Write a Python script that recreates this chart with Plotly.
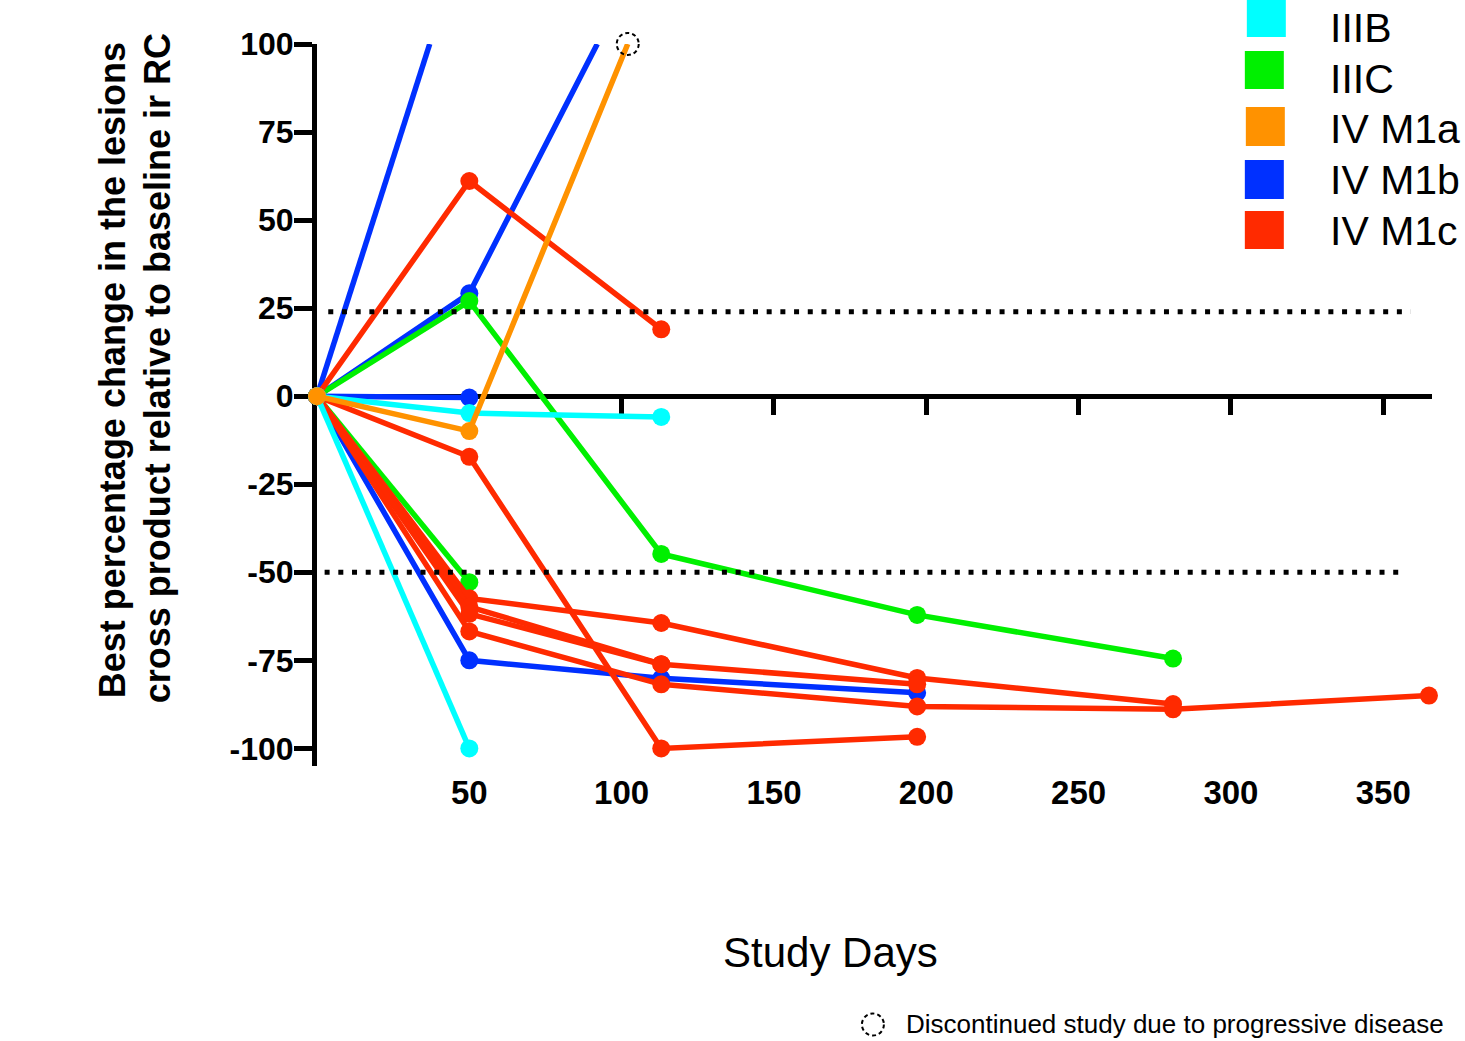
import plotly.graph_objects as go

# ---------------- data ----------------
stage_labels = ["IIIB", "IIIC", "IV M1a", "IV M1b", "IV M1c"]
stage_colors = ["#00FFFF", "#00F000", "#FF9200", "#0030FF", "#FF2A00"]

# each patient: study days, best % change, stage, and whether the last point is off-scale (no marker)
p01_days = [0, 50, 113];            p01_vals = [0, -4.8, -5.9]               # IIIB
p02_days = [0, 50];                 p02_vals = [0, -100]                     # IIIB
p03_days = [0, 50, 113, 197, 281];  p03_vals = [0, 27, -44.8, -62.1, -74.5]  # IIIC
p04_days = [0, 50];                 p04_vals = [0, -52.8]                    # IIIC
p05_days = [0, 50, 102];            p05_vals = [0, -9.9, 100]                # IV M1a (discontinued)
p06_days = [0, 37];                 p06_vals = [0, 100]                      # IV M1b
p07_days = [0, 50, 92];             p07_vals = [0, 29.2, 100]                # IV M1b
p08_days = [0, 50];                 p08_vals = [0, -0.4]                     # IV M1b
p09_days = [0, 50, 113, 197];       p09_vals = [0, -75, -80.1, -84.2]        # IV M1b
p10_days = [0, 50, 113];            p10_vals = [0, 61.1, 19.0]               # IV M1c
p11_days = [0, 50, 113, 197];       p11_vals = [0, -17.2, -100, -96.7]       # IV M1c
p12_days = [0, 50, 113, 197, 281];  p12_vals = [0, -57.4, -64.4, -80.0, -87.4]  # IV M1c
p13_days = [0, 50, 113, 197];       p13_vals = [0, -59.8, -76.1, -81.8]      # IV M1c
p14_days = [0, 50, 113];            p14_vals = [0, -61.8, -76.1]             # IV M1c
p15_days = [0, 50, 113, 197, 281, 365]; p15_vals = [0, -66.8, -81.8, -88.1, -88.9, -85.0]  # IV M1c

patients = [
    (p01_days, p01_vals, "IIIB", False), (p02_days, p02_vals, "IIIB", False),
    (p03_days, p03_vals, "IIIC", False), (p04_days, p04_vals, "IIIC", False),
    (p05_days, p05_vals, "IV M1a", True),
    (p06_days, p06_vals, "IV M1b", True), (p07_days, p07_vals, "IV M1b", True),
    (p08_days, p08_vals, "IV M1b", False), (p09_days, p09_vals, "IV M1b", False),
    (p10_days, p10_vals, "IV M1c", False), (p11_days, p11_vals, "IV M1c", False),
    (p12_days, p12_vals, "IV M1c", False), (p13_days, p13_vals, "IV M1c", False),
    (p14_days, p14_vals, "IV M1c", False), (p15_days, p15_vals, "IV M1c", False),
]

pd_threshold = 24      # upper dotted reference line
pr_threshold = -50     # lower dotted reference line
discontinued_day = 102
discontinued_val = 100

x_tick_vals = [50, 100, 150, 200, 250, 300, 350]
x_tick_text = ["50", "100", "150", "200", "250", "300", "350"]
y_tick_vals = [-100, -75, -50, -25, 0, 25, 50, 75, 100]
y_tick_text = ["-100", "-75", "-50", "-25", "0", "25", "50", "75", "100"]

x_title = "Study Days"
y_title_1 = "Best percentage change in the lesions"
y_title_2 = "cross product relative to baseline ir RC"
footnote = "Discontinued study due to progressive disease"

# ---------------- layout geometry ----------------
W, H = 1465, 1041
X_RANGE = [0, 366]
Y_RANGE = [-105, 100]
L, T = 317, 44
PW = 1115.2
PH = 721.6
R = W - L - PW
B = H - T - PH

def px(xp):
    return (xp - L) / PW

def py(yp):
    return (T + PH - yp) / PH

FONT = "Liberation Sans, Arial, Helvetica, sans-serif"
color_of = dict(zip(stage_labels, stage_colors))

fig = go.Figure()

draw_order = ["IV M1b", "IIIC", "IV M1c", "IIIB", "IV M1a"]
for st in draw_order:
    for d, v, s, offscale in patients:
        if s != st:
            continue
        sizes = [18] * len(d)
        if offscale:
            sizes[-1] = 0
        fig.add_trace(go.Scatter(
            x=d, y=v, mode="lines+markers",
            line=dict(color=color_of[s], width=5.5),
            marker=dict(color=color_of[s], size=sizes, opacity=1, line=dict(width=0)),
            cliponaxis=False, showlegend=False, name=s, hoverinfo="x+y+name",
        ))

# dummy trace so the second x axis (the zero-line axis with ticks) is drawn
fig.add_trace(go.Scatter(x=[None], y=[None], xaxis="x2", showlegend=False, hoverinfo="skip"))

disc_y_paper = (discontinued_val - Y_RANGE[0]) / (Y_RANGE[1] - Y_RANGE[0])

shapes = [
    dict(type="line", xref="x", yref="y", x0=3.7, x1=359, y0=pd_threshold, y1=pd_threshold,
         line=dict(color="black", width=5, dash="5px,8.7px"), layer="above"),
    dict(type="line", xref="x", yref="y", x0=2.5, x1=357, y0=pr_threshold, y1=pr_threshold,
         line=dict(color="black", width=5, dash="5px,8.7px"), layer="above"),
    dict(type="circle", xref="x", yref="paper", xsizemode="pixel", ysizemode="pixel",
         xanchor=discontinued_day, yanchor=disc_y_paper, x0=-11, x1=11, y0=-11, y1=11,
         line=dict(color="black", width=2, dash="4px,3px"), layer="above"),
    # footnote symbol
    dict(type="circle", xref="paper", yref="paper", x0=px(862), x1=px(884), y0=py(1035), y1=py(1013),
         line=dict(color="black", width=2, dash="4px,3px")),
]

annotations = []
# legend boxes (drawn manually to match the reference's squares)
leg_boxes = [(1247, -2, 1286, 37), (1245, 51, 1284, 89), (1246, 107, 1285, 146),
             (1245, 160, 1284, 199), (1245, 211, 1284, 249)]
leg_text_y = [26, 77, 127, 178, 229]
for (x0, y0, x1, y1), lab, ty in zip(leg_boxes, stage_labels, leg_text_y):
    shapes.append(dict(type="rect", xref="paper", yref="paper",
                       x0=px(x0), x1=px(x1), y0=py(y1), y1=py(y0),
                       fillcolor=color_of[lab], line=dict(width=0)))
    annotations.append(dict(xref="paper", yref="paper", x=px(1328), y=py(ty + 2),
                            xanchor="left", yanchor="middle", text=lab, showarrow=False,
                            font=dict(family=FONT, size=41, color="black")))

annotations += [
    dict(xref="paper", yref="paper", x=px(112), y=py(370), text=y_title_1, textangle=-90,
         showarrow=False, xanchor="center", yanchor="middle",
         font=dict(family=FONT, size=36, color="black", weight="bold")),
    dict(xref="paper", yref="paper", x=px(157), y=py(368), text=y_title_2, textangle=-90,
         showarrow=False, xanchor="center", yanchor="middle",
         font=dict(family=FONT, size=36, color="black", weight="bold")),
    dict(xref="paper", yref="paper", x=px(831), y=py(952), text=x_title, showarrow=False,
         xanchor="center", yanchor="middle", font=dict(family=FONT, size=42, color="black")),
    dict(xref="paper", yref="paper", x=px(904), y=py(1023), text=footnote, showarrow=False,
         xanchor="left", yanchor="middle", font=dict(family=FONT, size=26, color="black")),
]

fig.update_layout(
    width=W, height=H, template="none",
    margin=dict(l=L, r=R, t=T, b=B, pad=0, autoexpand=False),
    paper_bgcolor="white", plot_bgcolor="white",
    showlegend=False,
    xaxis=dict(range=X_RANGE, showline=False, showgrid=False, zeroline=False,
               tickvals=x_tick_vals, ticktext=x_tick_text, ticks="", ticklabelstandoff=4,
               tickfont=dict(family=FONT, size=33, color="black", weight="bold"),
               automargin=False, fixedrange=True),
    xaxis2=dict(range=X_RANGE, overlaying="x", anchor="free", position=(0 - Y_RANGE[0]) / (Y_RANGE[1] - Y_RANGE[0]),
                side="bottom", showline=True, linewidth=5, linecolor="black", layer="below traces",
                tickvals=x_tick_vals, ticks="outside", ticklen=16, tickwidth=5, tickcolor="black",
                showticklabels=False, showgrid=False, zeroline=False, automargin=False),
    yaxis=dict(range=Y_RANGE, showline=True, linewidth=5, linecolor="black", layer="below traces",
               tickvals=y_tick_vals, ticktext=y_tick_text, ticks="outside", ticklen=18, tickwidth=5,
               tickcolor="black", ticklabelstandoff=-6,
               tickfont=dict(family=FONT, size=32, color="black", weight="bold"),
               showgrid=False, zeroline=False, automargin=False, fixedrange=True),
    shapes=shapes, annotations=annotations,
)

fig.write_html("out.html", config={"displayModeBar": False},
               post_script="document.body.style.margin='0';")
